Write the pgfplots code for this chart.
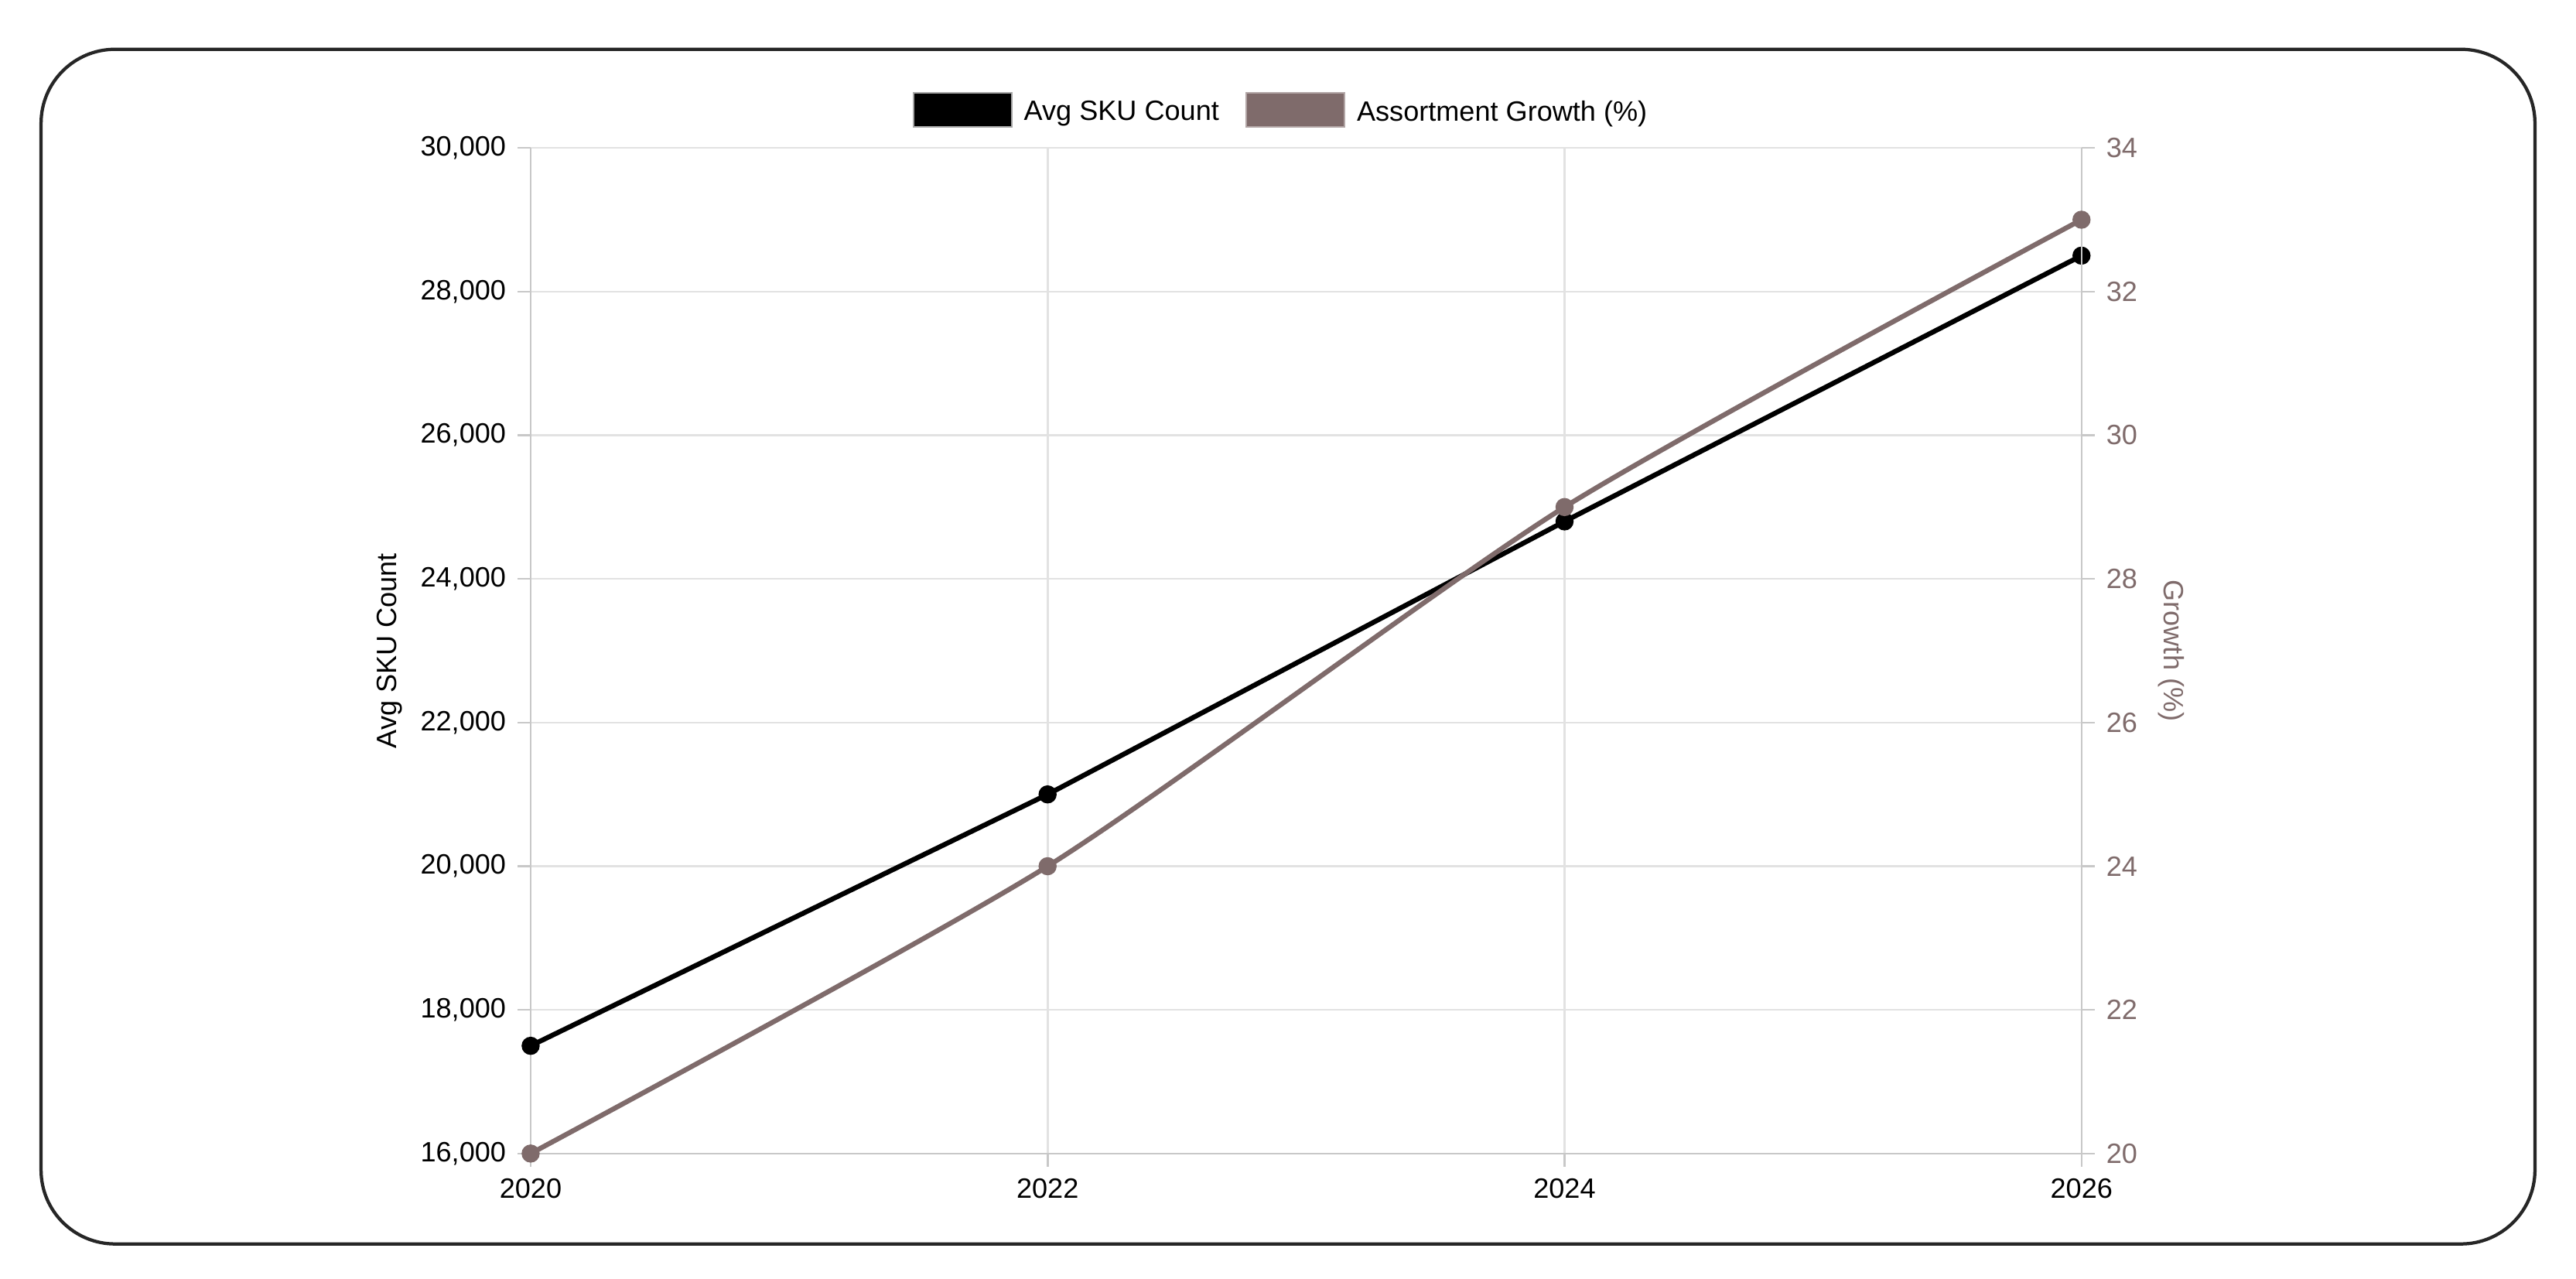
\documentclass[border=0pt]{standalone}
\usepackage{fontspec}
\setmainfont{Liberation Sans}
\usepackage{pgfplots}
\pgfplotsset{compat=1.18}
\definecolor{sku}{HTML}{000000}
\definecolor{growth}{HTML}{7F6B6B}
\definecolor{gridgray}{HTML}{E2E2E2}
\definecolor{axisgray}{HTML}{C8C8C8}

\pgfplotsset{
  base/.style={
    scale only axis, width=472pt, height=306pt,
    xmin=2020, xmax=2026, xtick={2020,2022,2024,2026},
    font=\fontsize{8.5}{10}\selectfont,
    /pgf/number format/assume math mode=true,
    tick align=outside, major tick length=4pt,
    tick style={axisgray, line width=0.6pt},
    axis line style={axisgray, line width=0.6pt, -},
    clip=false,
  }
}

\begin{document}
\begin{tikzpicture}
% left scale: average SKU count
\begin{axis}[base, name=main,
  axis x line*=bottom, axis y line*=left,
  ymin=16000, ymax=30000, ytick={16000,18000,...,30000},
  scaled y ticks=false,
  yticklabel style={/pgf/number format/1000 sep={,}},
  xticklabel style={/pgf/number format/1000 sep={}},
  grid=major, major grid style={gridgray, line width=0.6pt},
  ylabel={Avg SKU Count},
  ylabel style={at={(axis description cs:-0.091,0.5)}, anchor=center},
]
\addplot[sku, line width=1.5pt, mark=*, mark size=2pt] coordinates {
  (2020,17500) (2022,21000) (2024,24800) (2026,28500)
};
\end{axis}

% right scale: growth in percent
\begin{axis}[base,
  axis x line=none, axis y line*=right,
  ymin=20, ymax=34, ytick={20,22,...,34},
  yticklabel style={growth},
  ylabel={Growth (\%)},
  ylabel style={growth, at={(axis description cs:1.058,0.5)}, anchor=center, rotate=180},
  legend style={at={(axis description cs:0.5,1)}, anchor=south, xshift=-7pt, yshift=4.5pt,
    draw=none, fill=none, inner sep=0pt, legend columns=-1,
    font=\fontsize{8.5}{10}\selectfont,
    /tikz/every even column/.append style={column sep=6pt}},
]
\addlegendimage{legend image code/.code={\draw[draw=gray!70, line width=0.5pt, fill=sku] (0pt,-4.2pt) rectangle (30pt,6.3pt); \path (31.5pt,0pt);}}
\addlegendentry{Avg SKU Count}
\addlegendimage{legend image code/.code={\draw[draw=growth!60, line width=0.5pt, fill=growth] (0pt,-4.2pt) rectangle (30pt,6.3pt); \path (31.5pt,0pt);}}
\addlegendentry{Assortment Growth (\%)}
\addplot[growth, line width=1.5pt, mark=*, mark size=2pt, smooth, tension=0.4, forget plot] coordinates {
  (2020,20) (2022,24) (2024,29) (2026,33)
};
\end{axis}

\pgfresetboundingbox
\useasboundingbox ([xshift=-161.5pt,yshift=-38pt]main.south west) rectangle ([xshift=150.5pt,yshift=45pt]main.north east);
\draw[line width=1pt, black!85, rounded corners=22.5pt]
  ([xshift=-149pt,yshift=-27.5pt]main.south west) rectangle ([xshift=138pt,yshift=30pt]main.north east);
\end{tikzpicture}
\end{document}
